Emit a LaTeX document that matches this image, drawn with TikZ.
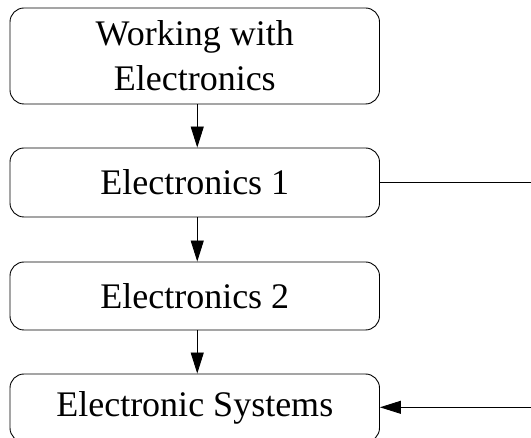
\documentclass[tikz,border=0pt]{standalone}
\usepackage{fontspec}
\setmainfont{Liberation Serif}
\usetikzlibrary{arrows.meta}
\begin{document}
\begin{tikzpicture}[x=1pt,y=-1pt,
  box/.style={draw, line width=0.9pt, rounded corners=14pt, minimum width=369.5pt,
    inner sep=0pt, align=center, font=\fontsize{36}{45}\selectfont},
  conn/.style={line width=0.9pt, -{Triangle[length=21pt,width=13pt]}},
  plain/.style={line width=0.9pt}]
\useasboundingbox (0,0) rectangle (531,438);
\clip (0,0) rectangle (531,438);
\node[box, minimum height=96pt] (w) at (194.75,56) {Working with\\Electronics};
\node[box, minimum height=69pt] (e1) at (194.75,182.5) {Electronics 1};
\node[box, minimum height=68pt] (e2) at (194.75,296) {Electronics 2};
\node[box, minimum height=68pt] (es) at (194.75,408) {Electronic Systems};
\coordinate (r1) at (531,182.7);
\coordinate (r2) at (531,407.3);
\draw[conn] ([xshift=2.5pt]w.south) -- ([xshift=2.5pt]e1.north);
\draw[conn] ([xshift=2.5pt]e1.south) -- ([xshift=2.5pt]e2.north);
\draw[conn] ([xshift=2.5pt]e2.south) -- ([xshift=2.5pt]es.north);
\draw[plain] (e1.east |- r1) -- (r1);
\draw[conn] (r2) -- (es.east |- r2);
\end{tikzpicture}
\end{document}
